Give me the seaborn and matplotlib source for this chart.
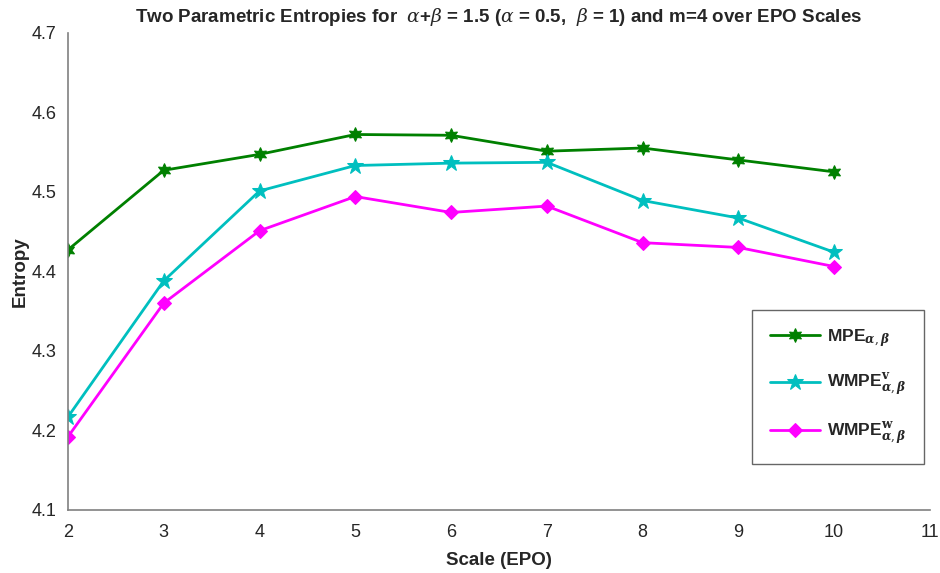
import numpy as np
import pandas as pd
import matplotlib
matplotlib.use("Agg")
import matplotlib.pyplot as plt
import seaborn as sns

# EPO scales and entropy values for each measure
scales = [2, 3, 4, 5, 6, 7, 8, 9, 10]
mpe = [4.427, 4.527, 4.547, 4.572, 4.571, 4.551, 4.555, 4.540, 4.525]
wmpe_v = [4.217, 4.388, 4.501, 4.533, 4.536, 4.537, 4.489, 4.467, 4.424]
wmpe_w = [4.192, 4.360, 4.451, 4.494, 4.474, 4.482, 4.436, 4.430, 4.406]

series_names = [
    r"MPE$_{\boldsymbol{\alpha,\beta}}$",
    r"WMPE$^{\mathbf{v}}_{\boldsymbol{\alpha,\beta}}$",
    r"WMPE$^{\mathbf{w}}_{\boldsymbol{\alpha,\beta}}$",
]
x_ticks = [2, 3, 4, 5, 6, 7, 8, 9, 10, 11]
y_ticks = [4.1, 4.2, 4.3, 4.4, 4.5, 4.6, 4.7]

df = pd.DataFrame({
    "Scale": scales * 3,
    "Entropy": mpe + wmpe_v + wmpe_w,
    "Measure": [series_names[0]] * len(scales)
    + [series_names[1]] * len(scales)
    + [series_names[2]] * len(scales),
})

sns.set_theme(style="white")
plt.rcParams["font.family"] = ["Liberation Sans", "DejaVu Sans"]
plt.rcParams["mathtext.fontset"] = "dejavuserif"

palette = {series_names[0]: "#008000", series_names[1]: "#00BFBF", series_names[2]: "#FF00FF"}
markers = {series_names[0]: (6, 1, 0), series_names[1]: "*", series_names[2]: "D"}
sizes = {series_names[0]: 10, series_names[1]: 12, series_names[2]: 7}

fig = plt.figure(figsize=(9.4, 5.73), dpi=100)
ax = fig.add_axes([0.0723, 0.110, 0.9170, 0.833])

for name in series_names:
    sub = df[df["Measure"] == name]
    sns.lineplot(data=sub, x="Scale", y="Entropy", ax=ax, color=palette[name],
                 marker=markers[name], markersize=sizes[name], linewidth=2,
                 markeredgecolor=palette[name], label=name)

ax.set_xlim(2, 11)
ax.set_ylim(4.1, 4.7)
ax.set_xticks(x_ticks)
ax.set_yticks(y_ticks)
ax.set_yticklabels([f"{v:.1f}" for v in y_ticks])
ax.tick_params(direction="in", length=6, width=0.8, colors="#262626",
               labelsize=13)
ax.tick_params(axis="x", pad=10)
ax.tick_params(axis="y", pad=8)
for side in ["top", "right"]:
    ax.spines[side].set_visible(False)
for side in ["left", "bottom"]:
    ax.spines[side].set_color("#808080")
    ax.spines[side].set_linewidth(1.2)
ax.tick_params(axis="both", color="#808080")

ax.set_xlabel("Scale (EPO)", fontsize=13.5, fontweight="bold", color="#262626", labelpad=8)
ax.set_ylabel("Entropy", fontsize=13.5, fontweight="bold", color="#262626", labelpad=2)
ax.set_title(r"Two Parametric Entropies for  $\alpha$+$\beta$ = 1.5 ($\alpha$ = 0.5,  $\beta$ = 1) and m=4 over EPO Scales",
             fontsize=13.5, fontweight="bold", pad=8)

leg = ax.legend(loc="upper left", bbox_to_anchor=(0.794, 0.419), frameon=True,
                fancybox=False, edgecolor="#404040", fontsize=12.5,
                labelspacing=1.3, handlelength=2.9, handletextpad=0.4,
                borderpad=1.0, borderaxespad=0)
leg.get_frame().set_linewidth(1.0)
for t in leg.get_texts():
    t.set_fontweight("bold")

fig.savefig("out.png", dpi=100)
